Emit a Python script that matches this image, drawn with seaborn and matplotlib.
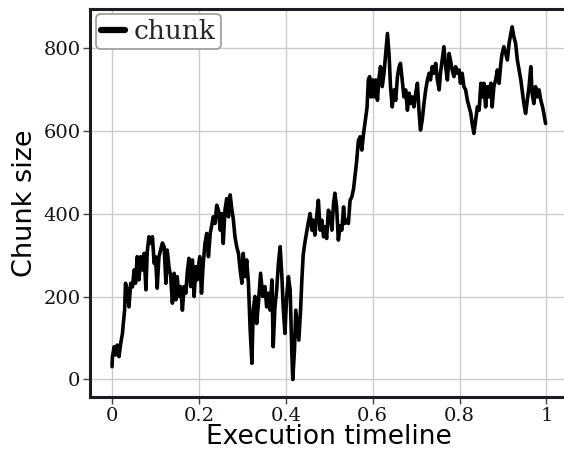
import matplotlib
matplotlib.use("Agg")
import matplotlib.pyplot as plt
import seaborn as sns
import pandas as pd

timeline = [
    0.000, 0.001, 0.005, 0.008, 0.012, 0.016, 0.020, 0.024, 0.026, 0.029,
    0.031, 0.035, 0.039, 0.043, 0.047, 0.051, 0.054, 0.058, 0.062, 0.066,
    0.070, 0.074, 0.078, 0.081, 0.085, 0.089, 0.093, 0.097, 0.100, 0.104,
    0.108, 0.112, 0.116, 0.120, 0.124, 0.127, 0.131, 0.135, 0.139, 0.143,
    0.147, 0.150, 0.154, 0.158, 0.162, 0.166, 0.170, 0.173, 0.177, 0.181,
    0.185, 0.189, 0.193, 0.196, 0.199, 0.202, 0.206, 0.210, 0.214, 0.218,
    0.222, 0.226, 0.229, 0.233, 0.237, 0.241, 0.245, 0.249, 0.252, 0.256,
    0.260, 0.264, 0.268, 0.272, 0.276, 0.279, 0.283, 0.287, 0.291, 0.295,
    0.299, 0.302, 0.306, 0.310, 0.314, 0.318, 0.322, 0.325, 0.329, 0.333,
    0.337, 0.342, 0.347, 0.352, 0.356, 0.360, 0.364, 0.368, 0.371, 0.375,
    0.379, 0.383, 0.387, 0.391, 0.394, 0.398, 0.402, 0.406, 0.410, 0.414,
    0.416, 0.420, 0.423, 0.426, 0.430, 0.434, 0.437, 0.440, 0.444, 0.448,
    0.452, 0.456, 0.460, 0.463, 0.467, 0.471, 0.475, 0.479, 0.483, 0.487,
    0.490, 0.494, 0.498, 0.502, 0.506, 0.510, 0.513, 0.517, 0.521, 0.525,
    0.529, 0.533, 0.536, 0.540, 0.544, 0.548, 0.552, 0.556, 0.560, 0.563,
    0.567, 0.571, 0.575, 0.579, 0.583, 0.587, 0.590, 0.593, 0.596, 0.600,
    0.603, 0.607, 0.611, 0.614, 0.618, 0.622, 0.626, 0.630, 0.634, 0.638,
    0.641, 0.645, 0.649, 0.653, 0.657, 0.661, 0.664, 0.668, 0.672, 0.676,
    0.680, 0.684, 0.687, 0.691, 0.695, 0.699, 0.703, 0.707, 0.710, 0.714,
    0.718, 0.722, 0.726, 0.730, 0.733, 0.737, 0.741, 0.745, 0.749, 0.753,
    0.756, 0.760, 0.764, 0.768, 0.772, 0.776, 0.779, 0.783, 0.787, 0.791,
    0.795, 0.799, 0.802, 0.806, 0.810, 0.814, 0.818, 0.822, 0.826, 0.829,
    0.833, 0.837, 0.841, 0.845, 0.849, 0.852, 0.856, 0.860, 0.864, 0.868,
    0.872, 0.875, 0.879, 0.883, 0.887, 0.891, 0.895, 0.898, 0.902, 0.906,
    0.910, 0.914, 0.918, 0.921, 0.925, 0.929, 0.933, 0.937, 0.941, 0.945,
    0.948, 0.952, 0.956, 0.960, 0.964, 0.967, 0.971, 0.975, 0.979, 0.983,
    0.987, 0.991, 0.994, 0.998,
]

chunk = [
    31, 55, 79, 59, 83, 55, 87, 111, 135, 167,
    232, 216, 175, 232, 223, 264, 232, 296, 240, 296,
    264, 304, 216, 307, 344, 328, 344, 280, 296, 220,
    296, 312, 329, 320, 232, 312, 272, 248, 184, 256,
    192, 248, 200, 224, 167, 224, 208, 256, 292, 224,
    288, 200, 272, 240, 272, 296, 208, 280, 328, 352,
    296, 352, 368, 392, 376, 420, 408, 360, 400, 328,
    408, 436, 392, 445, 408, 388, 344, 320, 304, 264,
    232, 304, 248, 288, 232, 120, 39, 167, 200, 135,
    184, 256, 200, 224, 175, 208, 167, 240, 79, 175,
    216, 280, 320, 248, 175, 111, 200, 248, 216, 63,
    0, 71, 167, 135, 95, 167, 240, 300, 330, 355,
    380, 400, 360, 384, 348, 392, 432, 360, 384, 344,
    368, 340, 408, 400, 360, 424, 449, 416, 336, 370,
    360, 416, 376, 384, 376, 432, 440, 460, 497, 525,
    575, 585, 553, 593, 625, 655, 722, 730, 681, 722,
    681, 722, 673, 722, 754, 706, 738, 786, 834, 778,
    706, 657, 698, 673, 730, 754, 762, 722, 681, 698,
    649, 690, 665, 681, 657, 690, 714, 641, 601, 625,
    665, 698, 722, 738, 722, 754, 738, 762, 722, 698,
    738, 770, 802, 754, 722, 786, 770, 746, 730, 754,
    738, 746, 714, 738, 706, 698, 673, 657, 641, 617,
    593, 625, 657, 649, 714, 681, 714, 657, 706, 681,
    714, 657, 706, 722, 746, 714, 762, 786, 802, 786,
    770, 810, 834, 850, 826, 810, 770, 746, 722, 690,
    665, 641, 673, 706, 754, 690, 665, 706, 681, 698,
    673, 657, 641, 617,
]

x_ticks = [0, 0.2, 0.4, 0.6, 0.8, 1]
x_tick_labels = ["0", "0.2", "0.4", "0.6", "0.8", "1"]
y_ticks = [0, 200, 400, 600, 800]
y_tick_labels = ["0", "200", "400", "600", "800"]

df = pd.DataFrame({"Execution timeline": timeline, "Chunk size": chunk})

sns.set_theme(style="white")
plt.rcParams["font.family"] = ["DejaVu Sans"]

fig = plt.figure(figsize=(5.64, 4.51), dpi=100)
ax = fig.add_axes([0.1601, 0.119, 0.8473, 0.862])

sns.lineplot(data=df, x="Execution timeline", y="Chunk size", ax=ax,
             color="black", linewidth=2.6, estimator=None, sort=False,
             label="chunk")

ax.set_xlim(-0.05, 1.05)
ax.set_ylim(-43, 894)
ax.set_xticks(x_ticks)
ax.set_xticklabels(x_tick_labels, family="DejaVu Serif", fontsize=14, color="#1a1111")
ax.set_yticks(y_ticks)
ax.set_yticklabels(y_tick_labels, family="DejaVu Serif", fontsize=14, color="#1a1111")
ax.set_xlabel("Execution timeline", fontsize=19, family="DejaVu Sans", color="black", labelpad=-1)
ax.set_ylabel("Chunk size", fontsize=19.5, family="DejaVu Sans", color="black", labelpad=4)

ax.grid(True, color="#cccccc", linewidth=1.0)
ax.set_axisbelow(True)
for side in ["left", "bottom", "top"]:
    ax.spines[side].set_color("#1c1c24")
    ax.spines[side].set_linewidth(2.2)
ax.spines["right"].set_visible(False)
ax.tick_params(axis="both", which="major", length=5, width=1, color="#444444",
               direction="out", bottom=True, left=True, right=False, top=False, pad=2)

leg = ax.legend(loc="upper left", prop={"family": "DejaVu Serif", "size": 19},
                frameon=True, fancybox=True, edgecolor="#999999", facecolor="white",
                framealpha=1.0, handlelength=0.9, handletextpad=0.35,
                borderpad=0.2, borderaxespad=0.2)
for line in leg.get_lines():
    line.set_linewidth(4.5)
leg.get_frame().set_linewidth(1.2)

fig.savefig("out.png", dpi=100)
